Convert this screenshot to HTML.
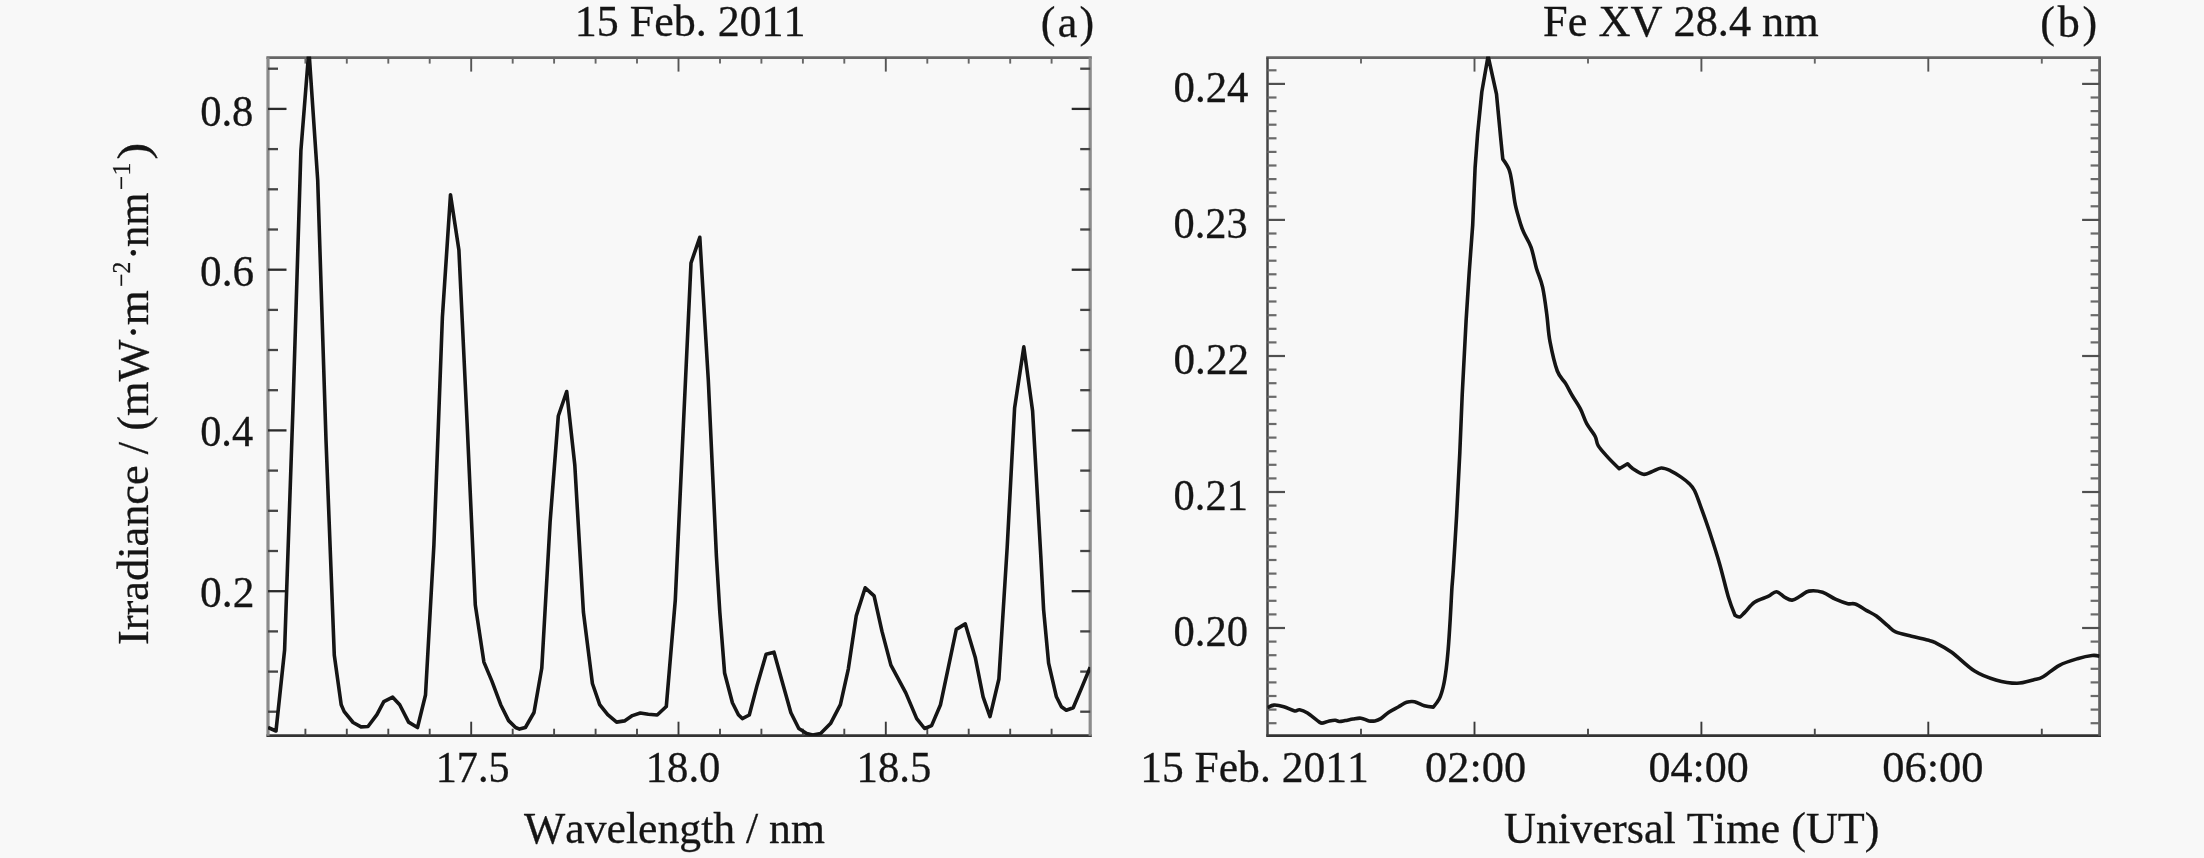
<!DOCTYPE html>
<html lang="en"><head><meta charset="utf-8"><title>EVE spectrum and Fe XV 28.4 nm light curve, 15 Feb. 2011</title>
<style>
html,body{margin:0;padding:0;background:#f8f8f8;}
body{width:2204px;height:858px;overflow:hidden;}
svg{display:block;}
#panel-a,#panel-b,#labels{filter:blur(0.45px);}
text{font-family:"Liberation Serif", "Times New Roman", serif;fill:#151515;stroke:#151515;stroke-width:0.3px;font-kerning:none;}
</style></head><body>
<svg width="2204" height="858" viewBox="0 0 2204 858">
<rect width="2204" height="858" fill="#f8f8f8"/>
<defs>
<clipPath id="ca"><rect x="268.0" y="56.6" width="822.2" height="679.1"/></clipPath>
<clipPath id="cb"><rect x="1267.5" y="56.6" width="832.0999999999999" height="679.1"/></clipPath>
</defs>
<g id="panel-a">
<line x1="266.4" y1="57.6" x2="1091.8" y2="57.6" stroke="#666" stroke-width="2.6"/>
<line x1="266.4" y1="735.7" x2="1091.8" y2="735.7" stroke="#333" stroke-width="2.8"/>
<line x1="268.0" y1="57.6" x2="268.0" y2="735.7" stroke="#8a8a8a" stroke-width="3.2"/>
<line x1="1090.2" y1="57.6" x2="1090.2" y2="735.7" stroke="#8c8c8c" stroke-width="3.2"/>
<line x1="305.4" y1="57.6" x2="305.4" y2="63.6" stroke="#666" stroke-width="1.9"/>
<line x1="305.4" y1="735.7" x2="305.4" y2="728.7" stroke="#4a4a4a" stroke-width="1.9"/>
<line x1="346.8" y1="57.6" x2="346.8" y2="63.6" stroke="#666" stroke-width="1.9"/>
<line x1="346.8" y1="735.7" x2="346.8" y2="728.7" stroke="#4a4a4a" stroke-width="1.9"/>
<line x1="388.3" y1="57.6" x2="388.3" y2="63.6" stroke="#666" stroke-width="1.9"/>
<line x1="388.3" y1="735.7" x2="388.3" y2="728.7" stroke="#4a4a4a" stroke-width="1.9"/>
<line x1="429.7" y1="57.6" x2="429.7" y2="63.6" stroke="#666" stroke-width="1.9"/>
<line x1="429.7" y1="735.7" x2="429.7" y2="728.7" stroke="#4a4a4a" stroke-width="1.9"/>
<line x1="471.2" y1="57.6" x2="471.2" y2="71.6" stroke="#555" stroke-width="1.9"/>
<line x1="471.2" y1="735.7" x2="471.2" y2="721.7" stroke="#3a3a3a" stroke-width="1.9"/>
<line x1="512.7" y1="57.6" x2="512.7" y2="63.6" stroke="#666" stroke-width="1.9"/>
<line x1="512.7" y1="735.7" x2="512.7" y2="728.7" stroke="#4a4a4a" stroke-width="1.9"/>
<line x1="554.1" y1="57.6" x2="554.1" y2="63.6" stroke="#666" stroke-width="1.9"/>
<line x1="554.1" y1="735.7" x2="554.1" y2="728.7" stroke="#4a4a4a" stroke-width="1.9"/>
<line x1="595.6" y1="57.6" x2="595.6" y2="63.6" stroke="#666" stroke-width="1.9"/>
<line x1="595.6" y1="735.7" x2="595.6" y2="728.7" stroke="#4a4a4a" stroke-width="1.9"/>
<line x1="637.0" y1="57.6" x2="637.0" y2="63.6" stroke="#666" stroke-width="1.9"/>
<line x1="637.0" y1="735.7" x2="637.0" y2="728.7" stroke="#4a4a4a" stroke-width="1.9"/>
<line x1="678.5" y1="57.6" x2="678.5" y2="71.6" stroke="#555" stroke-width="1.9"/>
<line x1="678.5" y1="735.7" x2="678.5" y2="721.7" stroke="#3a3a3a" stroke-width="1.9"/>
<line x1="720.0" y1="57.6" x2="720.0" y2="63.6" stroke="#666" stroke-width="1.9"/>
<line x1="720.0" y1="735.7" x2="720.0" y2="728.7" stroke="#4a4a4a" stroke-width="1.9"/>
<line x1="761.4" y1="57.6" x2="761.4" y2="63.6" stroke="#666" stroke-width="1.9"/>
<line x1="761.4" y1="735.7" x2="761.4" y2="728.7" stroke="#4a4a4a" stroke-width="1.9"/>
<line x1="802.9" y1="57.6" x2="802.9" y2="63.6" stroke="#666" stroke-width="1.9"/>
<line x1="802.9" y1="735.7" x2="802.9" y2="728.7" stroke="#4a4a4a" stroke-width="1.9"/>
<line x1="844.3" y1="57.6" x2="844.3" y2="63.6" stroke="#666" stroke-width="1.9"/>
<line x1="844.3" y1="735.7" x2="844.3" y2="728.7" stroke="#4a4a4a" stroke-width="1.9"/>
<line x1="885.8" y1="57.6" x2="885.8" y2="71.6" stroke="#555" stroke-width="1.9"/>
<line x1="885.8" y1="735.7" x2="885.8" y2="721.7" stroke="#3a3a3a" stroke-width="1.9"/>
<line x1="927.3" y1="57.6" x2="927.3" y2="63.6" stroke="#666" stroke-width="1.9"/>
<line x1="927.3" y1="735.7" x2="927.3" y2="728.7" stroke="#4a4a4a" stroke-width="1.9"/>
<line x1="968.7" y1="57.6" x2="968.7" y2="63.6" stroke="#666" stroke-width="1.9"/>
<line x1="968.7" y1="735.7" x2="968.7" y2="728.7" stroke="#4a4a4a" stroke-width="1.9"/>
<line x1="1010.2" y1="57.6" x2="1010.2" y2="63.6" stroke="#666" stroke-width="1.9"/>
<line x1="1010.2" y1="735.7" x2="1010.2" y2="728.7" stroke="#4a4a4a" stroke-width="1.9"/>
<line x1="1051.6" y1="57.6" x2="1051.6" y2="63.6" stroke="#666" stroke-width="1.9"/>
<line x1="1051.6" y1="735.7" x2="1051.6" y2="728.7" stroke="#4a4a4a" stroke-width="1.9"/>
<line x1="268.0" y1="68.7" x2="278.0" y2="68.7" stroke="#444" stroke-width="2.3"/>
<line x1="1090.2" y1="68.7" x2="1080.2" y2="68.7" stroke="#444" stroke-width="2.3"/>
<line x1="268.0" y1="108.9" x2="286.5" y2="108.9" stroke="#2a2a2a" stroke-width="2.3"/>
<line x1="1090.2" y1="108.9" x2="1071.7" y2="108.9" stroke="#2a2a2a" stroke-width="2.3"/>
<line x1="268.0" y1="149.1" x2="278.0" y2="149.1" stroke="#444" stroke-width="2.3"/>
<line x1="1090.2" y1="149.1" x2="1080.2" y2="149.1" stroke="#444" stroke-width="2.3"/>
<line x1="268.0" y1="189.3" x2="278.0" y2="189.3" stroke="#444" stroke-width="2.3"/>
<line x1="1090.2" y1="189.3" x2="1080.2" y2="189.3" stroke="#444" stroke-width="2.3"/>
<line x1="268.0" y1="229.5" x2="278.0" y2="229.5" stroke="#444" stroke-width="2.3"/>
<line x1="1090.2" y1="229.5" x2="1080.2" y2="229.5" stroke="#444" stroke-width="2.3"/>
<line x1="268.0" y1="269.7" x2="286.5" y2="269.7" stroke="#2a2a2a" stroke-width="2.3"/>
<line x1="1090.2" y1="269.7" x2="1071.7" y2="269.7" stroke="#2a2a2a" stroke-width="2.3"/>
<line x1="268.0" y1="309.9" x2="278.0" y2="309.9" stroke="#444" stroke-width="2.3"/>
<line x1="1090.2" y1="309.9" x2="1080.2" y2="309.9" stroke="#444" stroke-width="2.3"/>
<line x1="268.0" y1="350.0" x2="278.0" y2="350.0" stroke="#444" stroke-width="2.3"/>
<line x1="1090.2" y1="350.0" x2="1080.2" y2="350.0" stroke="#444" stroke-width="2.3"/>
<line x1="268.0" y1="390.2" x2="278.0" y2="390.2" stroke="#444" stroke-width="2.3"/>
<line x1="1090.2" y1="390.2" x2="1080.2" y2="390.2" stroke="#444" stroke-width="2.3"/>
<line x1="268.0" y1="430.4" x2="286.5" y2="430.4" stroke="#2a2a2a" stroke-width="2.3"/>
<line x1="1090.2" y1="430.4" x2="1071.7" y2="430.4" stroke="#2a2a2a" stroke-width="2.3"/>
<line x1="268.0" y1="470.6" x2="278.0" y2="470.6" stroke="#444" stroke-width="2.3"/>
<line x1="1090.2" y1="470.6" x2="1080.2" y2="470.6" stroke="#444" stroke-width="2.3"/>
<line x1="268.0" y1="510.8" x2="278.0" y2="510.8" stroke="#444" stroke-width="2.3"/>
<line x1="1090.2" y1="510.8" x2="1080.2" y2="510.8" stroke="#444" stroke-width="2.3"/>
<line x1="268.0" y1="551.0" x2="278.0" y2="551.0" stroke="#444" stroke-width="2.3"/>
<line x1="1090.2" y1="551.0" x2="1080.2" y2="551.0" stroke="#444" stroke-width="2.3"/>
<line x1="268.0" y1="591.2" x2="286.5" y2="591.2" stroke="#2a2a2a" stroke-width="2.3"/>
<line x1="1090.2" y1="591.2" x2="1071.7" y2="591.2" stroke="#2a2a2a" stroke-width="2.3"/>
<line x1="268.0" y1="631.4" x2="278.0" y2="631.4" stroke="#444" stroke-width="2.3"/>
<line x1="1090.2" y1="631.4" x2="1080.2" y2="631.4" stroke="#444" stroke-width="2.3"/>
<line x1="268.0" y1="671.6" x2="278.0" y2="671.6" stroke="#444" stroke-width="2.3"/>
<line x1="1090.2" y1="671.6" x2="1080.2" y2="671.6" stroke="#444" stroke-width="2.3"/>
<line x1="268.0" y1="711.7" x2="278.0" y2="711.7" stroke="#444" stroke-width="2.3"/>
<line x1="1090.2" y1="711.7" x2="1080.2" y2="711.7" stroke="#444" stroke-width="2.3"/>
<polyline clip-path="url(#ca)" points="268.0,727.5 276.0,731.0 284.6,650.0 292.9,410.0 300.9,150.7 308.9,50.0 317.7,180.0 326.0,440.0 334.3,655.2 341.2,704.7 344.2,711.6 353.1,722.5 361.0,726.9 368.0,726.5 376.9,714.6 383.8,701.7 392.7,697.2 399.7,704.7 408.6,722.1 417.5,727.5 425.5,695.0 433.9,545.0 442.4,317.0 450.5,194.7 458.9,250.0 467.1,423.0 475.3,605.0 483.9,662.1 491.8,680.9 500.7,704.7 508.6,720.6 515.6,727.5 519.5,729.1 525.4,727.5 534.0,712.5 541.8,668.0 550.1,522.0 558.3,416.0 566.7,391.5 574.8,465.0 583.4,612.0 592.4,683.5 599.7,704.7 607.7,714.6 616.6,722.1 624.5,720.9 632.4,715.6 640.3,713.0 648.3,714.2 657.2,715.0 666.3,706.5 675.3,600.0 683.4,425.0 691.0,263.0 699.8,237.3 708.3,380.0 716.4,556.0 719.8,612.0 724.6,673.0 732.4,702.8 738.4,714.7 742.3,718.6 749.3,715.0 757.2,684.9 766.1,654.2 774.0,652.2 782.0,681.0 790.9,712.7 798.8,728.5 806.7,733.5 812.7,734.9 820.6,733.5 830.5,723.6 840.4,704.7 848.3,669.1 856.3,615.6 865.2,587.8 874.1,595.8 882.0,631.4 890.9,665.1 905.8,692.9 916.7,718.6 924.6,728.5 931.6,725.6 940.5,704.7 948.4,667.1 956.3,629.4 965.3,623.9 975.2,657.2 983.1,696.8 990.0,716.6 998.9,679.0 1007.2,547.0 1014.6,408.0 1023.8,346.9 1032.6,411.0 1040.8,556.0 1043.6,609.6 1048.6,663.1 1056.4,696.8 1061.4,706.7 1066.3,710.3 1073.2,707.7 1081.2,688.9 1090.2,667.1" fill="none" stroke="#151515" stroke-width="3.6" stroke-linejoin="round" stroke-linecap="butt"/>
</g>
<g id="panel-b">
<line x1="1266.2" y1="57.6" x2="2101.0" y2="57.6" stroke="#666" stroke-width="2.6"/>
<line x1="1266.2" y1="735.7" x2="2101.0" y2="735.7" stroke="#333" stroke-width="2.8"/>
<line x1="1267.5" y1="57.6" x2="1267.5" y2="735.7" stroke="#444" stroke-width="2.5"/>
<line x1="2099.6" y1="57.6" x2="2099.6" y2="735.7" stroke="#606060" stroke-width="2.8"/>
<line x1="1361.0" y1="57.6" x2="1361.0" y2="63.6" stroke="#666" stroke-width="1.9"/>
<line x1="1361.0" y1="735.7" x2="1361.0" y2="728.7" stroke="#4a4a4a" stroke-width="1.9"/>
<line x1="1474.5" y1="57.6" x2="1474.5" y2="71.6" stroke="#555" stroke-width="1.9"/>
<line x1="1474.5" y1="735.7" x2="1474.5" y2="721.7" stroke="#3a3a3a" stroke-width="1.9"/>
<line x1="1588.0" y1="57.6" x2="1588.0" y2="63.6" stroke="#666" stroke-width="1.9"/>
<line x1="1588.0" y1="735.7" x2="1588.0" y2="728.7" stroke="#4a4a4a" stroke-width="1.9"/>
<line x1="1701.4" y1="57.6" x2="1701.4" y2="71.6" stroke="#555" stroke-width="1.9"/>
<line x1="1701.4" y1="735.7" x2="1701.4" y2="721.7" stroke="#3a3a3a" stroke-width="1.9"/>
<line x1="1814.8" y1="57.6" x2="1814.8" y2="63.6" stroke="#666" stroke-width="1.9"/>
<line x1="1814.8" y1="735.7" x2="1814.8" y2="728.7" stroke="#4a4a4a" stroke-width="1.9"/>
<line x1="1928.3" y1="57.6" x2="1928.3" y2="71.6" stroke="#555" stroke-width="1.9"/>
<line x1="1928.3" y1="735.7" x2="1928.3" y2="721.7" stroke="#3a3a3a" stroke-width="1.9"/>
<line x1="2041.8" y1="57.6" x2="2041.8" y2="63.6" stroke="#666" stroke-width="1.9"/>
<line x1="2041.8" y1="735.7" x2="2041.8" y2="728.7" stroke="#4a4a4a" stroke-width="1.9"/>
<line x1="1267.5" y1="70.3" x2="1276.5" y2="70.3" stroke="#6a6a6a" stroke-width="2.2"/>
<line x1="2099.6" y1="70.3" x2="2090.6" y2="70.3" stroke="#6a6a6a" stroke-width="2.2"/>
<line x1="1267.5" y1="83.9" x2="1285.0" y2="83.9" stroke="#505050" stroke-width="2.2"/>
<line x1="2099.6" y1="83.9" x2="2082.1" y2="83.9" stroke="#505050" stroke-width="2.2"/>
<line x1="1267.5" y1="97.5" x2="1276.5" y2="97.5" stroke="#6a6a6a" stroke-width="2.2"/>
<line x1="2099.6" y1="97.5" x2="2090.6" y2="97.5" stroke="#6a6a6a" stroke-width="2.2"/>
<line x1="1267.5" y1="111.1" x2="1276.5" y2="111.1" stroke="#6a6a6a" stroke-width="2.2"/>
<line x1="2099.6" y1="111.1" x2="2090.6" y2="111.1" stroke="#6a6a6a" stroke-width="2.2"/>
<line x1="1267.5" y1="124.7" x2="1276.5" y2="124.7" stroke="#6a6a6a" stroke-width="2.2"/>
<line x1="2099.6" y1="124.7" x2="2090.6" y2="124.7" stroke="#6a6a6a" stroke-width="2.2"/>
<line x1="1267.5" y1="138.3" x2="1276.5" y2="138.3" stroke="#6a6a6a" stroke-width="2.2"/>
<line x1="2099.6" y1="138.3" x2="2090.6" y2="138.3" stroke="#6a6a6a" stroke-width="2.2"/>
<line x1="1267.5" y1="151.9" x2="1276.5" y2="151.9" stroke="#6a6a6a" stroke-width="2.2"/>
<line x1="2099.6" y1="151.9" x2="2090.6" y2="151.9" stroke="#6a6a6a" stroke-width="2.2"/>
<line x1="1267.5" y1="165.5" x2="1276.5" y2="165.5" stroke="#6a6a6a" stroke-width="2.2"/>
<line x1="2099.6" y1="165.5" x2="2090.6" y2="165.5" stroke="#6a6a6a" stroke-width="2.2"/>
<line x1="1267.5" y1="179.1" x2="1276.5" y2="179.1" stroke="#6a6a6a" stroke-width="2.2"/>
<line x1="2099.6" y1="179.1" x2="2090.6" y2="179.1" stroke="#6a6a6a" stroke-width="2.2"/>
<line x1="1267.5" y1="192.7" x2="1276.5" y2="192.7" stroke="#6a6a6a" stroke-width="2.2"/>
<line x1="2099.6" y1="192.7" x2="2090.6" y2="192.7" stroke="#6a6a6a" stroke-width="2.2"/>
<line x1="1267.5" y1="206.3" x2="1276.5" y2="206.3" stroke="#6a6a6a" stroke-width="2.2"/>
<line x1="2099.6" y1="206.3" x2="2090.6" y2="206.3" stroke="#6a6a6a" stroke-width="2.2"/>
<line x1="1267.5" y1="219.9" x2="1285.0" y2="219.9" stroke="#505050" stroke-width="2.2"/>
<line x1="2099.6" y1="219.9" x2="2082.1" y2="219.9" stroke="#505050" stroke-width="2.2"/>
<line x1="1267.5" y1="233.5" x2="1276.5" y2="233.5" stroke="#6a6a6a" stroke-width="2.2"/>
<line x1="2099.6" y1="233.5" x2="2090.6" y2="233.5" stroke="#6a6a6a" stroke-width="2.2"/>
<line x1="1267.5" y1="247.1" x2="1276.5" y2="247.1" stroke="#6a6a6a" stroke-width="2.2"/>
<line x1="2099.6" y1="247.1" x2="2090.6" y2="247.1" stroke="#6a6a6a" stroke-width="2.2"/>
<line x1="1267.5" y1="260.7" x2="1276.5" y2="260.7" stroke="#6a6a6a" stroke-width="2.2"/>
<line x1="2099.6" y1="260.7" x2="2090.6" y2="260.7" stroke="#6a6a6a" stroke-width="2.2"/>
<line x1="1267.5" y1="274.3" x2="1276.5" y2="274.3" stroke="#6a6a6a" stroke-width="2.2"/>
<line x1="2099.6" y1="274.3" x2="2090.6" y2="274.3" stroke="#6a6a6a" stroke-width="2.2"/>
<line x1="1267.5" y1="287.9" x2="1276.5" y2="287.9" stroke="#6a6a6a" stroke-width="2.2"/>
<line x1="2099.6" y1="287.9" x2="2090.6" y2="287.9" stroke="#6a6a6a" stroke-width="2.2"/>
<line x1="1267.5" y1="301.5" x2="1276.5" y2="301.5" stroke="#6a6a6a" stroke-width="2.2"/>
<line x1="2099.6" y1="301.5" x2="2090.6" y2="301.5" stroke="#6a6a6a" stroke-width="2.2"/>
<line x1="1267.5" y1="315.2" x2="1276.5" y2="315.2" stroke="#6a6a6a" stroke-width="2.2"/>
<line x1="2099.6" y1="315.2" x2="2090.6" y2="315.2" stroke="#6a6a6a" stroke-width="2.2"/>
<line x1="1267.5" y1="328.8" x2="1276.5" y2="328.8" stroke="#6a6a6a" stroke-width="2.2"/>
<line x1="2099.6" y1="328.8" x2="2090.6" y2="328.8" stroke="#6a6a6a" stroke-width="2.2"/>
<line x1="1267.5" y1="342.4" x2="1276.5" y2="342.4" stroke="#6a6a6a" stroke-width="2.2"/>
<line x1="2099.6" y1="342.4" x2="2090.6" y2="342.4" stroke="#6a6a6a" stroke-width="2.2"/>
<line x1="1267.5" y1="356.0" x2="1285.0" y2="356.0" stroke="#505050" stroke-width="2.2"/>
<line x1="2099.6" y1="356.0" x2="2082.1" y2="356.0" stroke="#505050" stroke-width="2.2"/>
<line x1="1267.5" y1="369.6" x2="1276.5" y2="369.6" stroke="#6a6a6a" stroke-width="2.2"/>
<line x1="2099.6" y1="369.6" x2="2090.6" y2="369.6" stroke="#6a6a6a" stroke-width="2.2"/>
<line x1="1267.5" y1="383.2" x2="1276.5" y2="383.2" stroke="#6a6a6a" stroke-width="2.2"/>
<line x1="2099.6" y1="383.2" x2="2090.6" y2="383.2" stroke="#6a6a6a" stroke-width="2.2"/>
<line x1="1267.5" y1="396.8" x2="1276.5" y2="396.8" stroke="#6a6a6a" stroke-width="2.2"/>
<line x1="2099.6" y1="396.8" x2="2090.6" y2="396.8" stroke="#6a6a6a" stroke-width="2.2"/>
<line x1="1267.5" y1="410.4" x2="1276.5" y2="410.4" stroke="#6a6a6a" stroke-width="2.2"/>
<line x1="2099.6" y1="410.4" x2="2090.6" y2="410.4" stroke="#6a6a6a" stroke-width="2.2"/>
<line x1="1267.5" y1="424.0" x2="1276.5" y2="424.0" stroke="#6a6a6a" stroke-width="2.2"/>
<line x1="2099.6" y1="424.0" x2="2090.6" y2="424.0" stroke="#6a6a6a" stroke-width="2.2"/>
<line x1="1267.5" y1="437.6" x2="1276.5" y2="437.6" stroke="#6a6a6a" stroke-width="2.2"/>
<line x1="2099.6" y1="437.6" x2="2090.6" y2="437.6" stroke="#6a6a6a" stroke-width="2.2"/>
<line x1="1267.5" y1="451.2" x2="1276.5" y2="451.2" stroke="#6a6a6a" stroke-width="2.2"/>
<line x1="2099.6" y1="451.2" x2="2090.6" y2="451.2" stroke="#6a6a6a" stroke-width="2.2"/>
<line x1="1267.5" y1="464.8" x2="1276.5" y2="464.8" stroke="#6a6a6a" stroke-width="2.2"/>
<line x1="2099.6" y1="464.8" x2="2090.6" y2="464.8" stroke="#6a6a6a" stroke-width="2.2"/>
<line x1="1267.5" y1="478.4" x2="1276.5" y2="478.4" stroke="#6a6a6a" stroke-width="2.2"/>
<line x1="2099.6" y1="478.4" x2="2090.6" y2="478.4" stroke="#6a6a6a" stroke-width="2.2"/>
<line x1="1267.5" y1="492.0" x2="1285.0" y2="492.0" stroke="#505050" stroke-width="2.2"/>
<line x1="2099.6" y1="492.0" x2="2082.1" y2="492.0" stroke="#505050" stroke-width="2.2"/>
<line x1="1267.5" y1="505.6" x2="1276.5" y2="505.6" stroke="#6a6a6a" stroke-width="2.2"/>
<line x1="2099.6" y1="505.6" x2="2090.6" y2="505.6" stroke="#6a6a6a" stroke-width="2.2"/>
<line x1="1267.5" y1="519.2" x2="1276.5" y2="519.2" stroke="#6a6a6a" stroke-width="2.2"/>
<line x1="2099.6" y1="519.2" x2="2090.6" y2="519.2" stroke="#6a6a6a" stroke-width="2.2"/>
<line x1="1267.5" y1="532.8" x2="1276.5" y2="532.8" stroke="#6a6a6a" stroke-width="2.2"/>
<line x1="2099.6" y1="532.8" x2="2090.6" y2="532.8" stroke="#6a6a6a" stroke-width="2.2"/>
<line x1="1267.5" y1="546.4" x2="1276.5" y2="546.4" stroke="#6a6a6a" stroke-width="2.2"/>
<line x1="2099.6" y1="546.4" x2="2090.6" y2="546.4" stroke="#6a6a6a" stroke-width="2.2"/>
<line x1="1267.5" y1="560.0" x2="1276.5" y2="560.0" stroke="#6a6a6a" stroke-width="2.2"/>
<line x1="2099.6" y1="560.0" x2="2090.6" y2="560.0" stroke="#6a6a6a" stroke-width="2.2"/>
<line x1="1267.5" y1="573.6" x2="1276.5" y2="573.6" stroke="#6a6a6a" stroke-width="2.2"/>
<line x1="2099.6" y1="573.6" x2="2090.6" y2="573.6" stroke="#6a6a6a" stroke-width="2.2"/>
<line x1="1267.5" y1="587.2" x2="1276.5" y2="587.2" stroke="#6a6a6a" stroke-width="2.2"/>
<line x1="2099.6" y1="587.2" x2="2090.6" y2="587.2" stroke="#6a6a6a" stroke-width="2.2"/>
<line x1="1267.5" y1="600.8" x2="1276.5" y2="600.8" stroke="#6a6a6a" stroke-width="2.2"/>
<line x1="2099.6" y1="600.8" x2="2090.6" y2="600.8" stroke="#6a6a6a" stroke-width="2.2"/>
<line x1="1267.5" y1="614.4" x2="1276.5" y2="614.4" stroke="#6a6a6a" stroke-width="2.2"/>
<line x1="2099.6" y1="614.4" x2="2090.6" y2="614.4" stroke="#6a6a6a" stroke-width="2.2"/>
<line x1="1267.5" y1="628.0" x2="1285.0" y2="628.0" stroke="#505050" stroke-width="2.2"/>
<line x1="2099.6" y1="628.0" x2="2082.1" y2="628.0" stroke="#505050" stroke-width="2.2"/>
<line x1="1267.5" y1="641.6" x2="1276.5" y2="641.6" stroke="#6a6a6a" stroke-width="2.2"/>
<line x1="2099.6" y1="641.6" x2="2090.6" y2="641.6" stroke="#6a6a6a" stroke-width="2.2"/>
<line x1="1267.5" y1="655.2" x2="1276.5" y2="655.2" stroke="#6a6a6a" stroke-width="2.2"/>
<line x1="2099.6" y1="655.2" x2="2090.6" y2="655.2" stroke="#6a6a6a" stroke-width="2.2"/>
<line x1="1267.5" y1="668.8" x2="1276.5" y2="668.8" stroke="#6a6a6a" stroke-width="2.2"/>
<line x1="2099.6" y1="668.8" x2="2090.6" y2="668.8" stroke="#6a6a6a" stroke-width="2.2"/>
<line x1="1267.5" y1="682.4" x2="1276.5" y2="682.4" stroke="#6a6a6a" stroke-width="2.2"/>
<line x1="2099.6" y1="682.4" x2="2090.6" y2="682.4" stroke="#6a6a6a" stroke-width="2.2"/>
<line x1="1267.5" y1="696.0" x2="1276.5" y2="696.0" stroke="#6a6a6a" stroke-width="2.2"/>
<line x1="2099.6" y1="696.0" x2="2090.6" y2="696.0" stroke="#6a6a6a" stroke-width="2.2"/>
<line x1="1267.5" y1="709.6" x2="1276.5" y2="709.6" stroke="#6a6a6a" stroke-width="2.2"/>
<line x1="2099.6" y1="709.6" x2="2090.6" y2="709.6" stroke="#6a6a6a" stroke-width="2.2"/>
<line x1="1267.5" y1="723.2" x2="1276.5" y2="723.2" stroke="#6a6a6a" stroke-width="2.2"/>
<line x1="2099.6" y1="723.2" x2="2090.6" y2="723.2" stroke="#6a6a6a" stroke-width="2.2"/>
<path clip-path="url(#cb)" d="M1267.5,707.7 C1267.5,707.7 1271.2,705.3 1273.9,705.1 C1276.6,704.9 1280.3,705.7 1283.8,706.7 C1287.3,707.7 1292.1,710.5 1294.7,711.0 C1297.3,711.5 1297.5,709.4 1299.6,709.7 C1301.7,710.0 1304.2,710.9 1307.5,713.0 C1310.8,715.1 1316.8,720.5 1319.4,722.1 C1322.1,723.8 1321.8,723.1 1323.4,722.9 C1325.1,722.7 1327.3,721.3 1329.3,720.9 C1331.3,720.5 1333.6,720.1 1335.3,720.2 C1337.0,720.3 1337.5,721.4 1339.2,721.5 C1340.9,721.6 1342.9,721.0 1345.2,720.6 C1347.5,720.2 1350.5,719.4 1353.1,719.0 C1355.7,718.6 1358.3,717.9 1361.0,718.2 C1363.7,718.5 1366.7,720.5 1369.0,720.9 C1371.3,721.3 1372.9,721.3 1374.9,720.9 C1376.9,720.5 1378.5,720.0 1380.8,718.6 C1383.1,717.2 1385.8,714.2 1388.8,712.2 C1391.8,710.2 1395.7,708.4 1398.7,706.7 C1401.7,705.1 1404.0,703.1 1406.6,702.3 C1409.2,701.5 1411.5,701.1 1414.5,701.7 C1417.5,702.3 1421.3,704.8 1424.4,705.7 C1427.5,706.6 1433.3,707.1 1433.3,707.1 C1433.3,707.1 1437.6,702.2 1439.3,698.8 C1441.0,695.4 1442.0,691.9 1443.2,686.9 C1444.4,681.9 1445.4,675.3 1446.2,669.0 C1447.0,662.7 1447.5,657.5 1448.2,649.2 C1448.9,641.0 1449.6,629.4 1450.2,619.5 C1450.8,609.6 1451.3,598.0 1451.8,589.8 C1452.3,581.5 1452.5,582.3 1453.3,570.0 C1454.1,557.7 1456.6,515.9 1456.6,515.9 C1456.6,515.9 1459.8,452.9 1459.8,452.9 C1459.8,452.9 1462.2,395.0 1462.2,395.0 C1462.2,395.0 1466.1,320.7 1466.1,320.7 C1466.1,320.7 1469.2,272.4 1469.2,272.4 C1469.2,272.4 1472.7,225.0 1472.7,225.0 C1472.7,225.0 1475.1,167.5 1475.1,167.5 C1475.1,167.5 1477.6,133.9 1477.6,133.9 C1477.6,133.9 1481.8,92.0 1481.8,92.0 C1481.8,92.0 1488.1,56.0 1488.1,56.0 C1488.1,56.0 1496.5,94.1 1496.5,94.1 C1496.5,94.1 1500.7,138.1 1500.7,138.1 C1500.7,138.1 1502.8,159.1 1502.8,159.1 C1502.8,159.1 1507.5,165.4 1509.1,169.6 C1510.7,173.8 1511.2,178.4 1512.2,184.3 C1513.2,190.2 1514.0,198.6 1515.4,205.2 C1516.8,211.8 1519.2,219.4 1520.6,224.0 C1522.0,228.6 1522.0,228.7 1523.8,232.6 C1525.5,236.5 1529.0,241.4 1531.1,247.3 C1533.2,253.2 1534.5,261.6 1536.4,268.2 C1538.3,274.8 1540.9,279.4 1542.6,287.1 C1544.3,294.8 1545.6,305.3 1546.8,314.4 C1548.0,323.5 1548.2,332.3 1550.0,341.7 C1551.8,351.1 1554.7,364.0 1557.3,371.0 C1559.9,378.0 1563.2,379.4 1565.7,383.6 C1568.2,387.8 1570.0,391.8 1572.5,396.0 C1575.0,400.2 1578.0,404.3 1580.4,408.9 C1582.8,413.5 1584.2,419.1 1586.7,423.6 C1589.2,428.2 1593.2,432.5 1595.1,436.2 C1597.0,439.9 1596.1,442.1 1598.2,445.6 C1600.3,449.1 1604.2,453.2 1607.7,457.1 C1611.2,461.0 1619.2,468.7 1619.2,468.7 C1619.2,468.7 1627.6,463.8 1627.6,463.8 C1627.6,463.8 1630.3,466.9 1632.9,468.7 C1635.5,470.4 1640.2,473.8 1643.3,474.3 C1646.4,474.8 1648.7,472.9 1651.7,471.8 C1654.7,470.8 1658.1,468.2 1661.2,468.0 C1664.3,467.8 1667.3,469.3 1670.6,470.8 C1673.9,472.3 1678.1,475.0 1681.1,477.1 C1684.1,479.2 1686.6,481.0 1688.8,483.2 C1691.0,485.4 1692.5,486.7 1694.5,490.5 C1696.5,494.3 1698.0,499.2 1700.5,506.0 C1703.0,512.8 1706.2,521.5 1709.4,531.3 C1712.6,541.1 1716.8,554.0 1719.9,564.9 C1723.0,575.8 1725.7,588.0 1728.2,596.4 C1730.7,604.8 1735.0,615.2 1735.0,615.2 C1735.0,615.2 1738.1,617.4 1739.8,616.9 C1741.5,616.4 1742.5,614.5 1745.0,612.1 C1747.5,609.7 1750.7,604.8 1754.5,602.2 C1758.3,599.6 1764.4,598.1 1768.1,596.4 C1771.8,594.6 1773.7,591.5 1776.5,591.7 C1779.3,591.9 1782.3,596.0 1784.9,597.4 C1787.5,598.8 1789.6,600.4 1792.2,600.1 C1794.8,599.9 1797.8,597.4 1800.6,595.9 C1803.4,594.4 1805.3,591.7 1809.0,591.1 C1812.7,590.5 1818.2,590.9 1822.6,592.2 C1827.0,593.6 1831.2,597.3 1835.4,599.2 C1839.6,601.1 1844.5,602.9 1847.8,603.7 C1851.1,604.5 1852.0,602.9 1855.2,604.0 C1858.4,605.1 1863.2,608.6 1866.7,610.6 C1870.2,612.6 1872.9,613.5 1876.4,616.0 C1879.9,618.5 1884.5,623.1 1887.7,625.7 C1890.9,628.4 1891.6,630.1 1895.6,631.9 C1899.6,633.6 1906.2,634.9 1911.5,636.2 C1916.8,637.6 1923.5,638.9 1927.5,640.0 C1931.5,641.1 1931.4,640.7 1935.4,642.7 C1939.4,644.7 1945.2,647.5 1951.7,652.2 C1958.2,656.9 1967.2,666.4 1974.6,671.0 C1981.9,675.6 1988.7,677.9 1995.8,679.9 C2002.9,681.9 2010.8,683.2 2017.0,683.2 C2023.2,683.2 2029.0,681.0 2033.3,679.9 C2037.6,678.8 2038.8,679.1 2043.1,676.7 C2047.4,674.3 2053.7,668.3 2059.4,665.3 C2065.1,662.3 2072.0,660.3 2077.4,658.7 C2082.8,657.1 2088.4,655.9 2092.1,655.5 C2095.8,655.1 2099.6,656.3 2099.6,656.3" fill="none" stroke="#151515" stroke-width="3.6" stroke-linejoin="round"/>
</g>
<g id="labels">
<text id="t_title_a" transform="translate(574.80,36.20) scale(0.9991,1)" font-size="44">15 Feb. 2011</text>
<text id="t_a" x="1040.80" y="36.60" letter-spacing="2.20" font-size="44">(a)</text>
<text id="t_title_b" transform="translate(1543.09,36.30) scale(1.0070,1)" font-size="44">Fe XV 28.4 nm</text>
<text id="t_b" x="2040.20" y="36.60" letter-spacing="2.80" font-size="44">(b)</text>
<text id="t_ya0" transform="translate(200.13,125.60) scale(0.9698,1)" font-size="44">0.8</text>
<text id="t_ya1" transform="translate(200.12,285.90) scale(0.9811,1)" font-size="44">0.6</text>
<text id="t_ya2" transform="translate(200.14,446.20) scale(0.9630,1)" font-size="44">0.4</text>
<text id="t_ya3" transform="translate(200.11,606.50) scale(0.9885,1)" font-size="44">0.2</text>
<text id="t_yb0" transform="translate(1173.53,101.90) scale(0.9737,1)" font-size="44">0.24</text>
<text id="t_yb1" transform="translate(1173.54,237.90) scale(0.9640,1)" font-size="44">0.23</text>
<text id="t_yb2" transform="translate(1173.52,373.90) scale(0.9811,1)" font-size="44">0.22</text>
<text id="t_yb3" transform="translate(1173.53,509.90) scale(0.9662,1)" font-size="44">0.21</text>
<text id="t_yb4" transform="translate(1173.53,645.90) scale(0.9680,1)" font-size="44">0.20</text>
<text id="t_xa0" transform="translate(435.77,782.30) scale(0.9583,1)" font-size="44">17.5</text>
<text id="t_xa1" transform="translate(645.72,782.30) scale(0.9708,1)" font-size="44">18.0</text>
<text id="t_xa2" transform="translate(856.62,782.30) scale(0.9708,1)" font-size="44">18.5</text>
<text id="t_xb_date" transform="translate(1140.14,781.50) scale(0.9898,1)" font-size="44">15 Feb. 2011</text>
<text id="t_xb0" transform="translate(1424.99,782.30) scale(1.0102,1)" font-size="44">02:00</text>
<text id="t_xb1" transform="translate(1648.50,782.30) scale(1.0020,1)" font-size="44">04:00</text>
<text id="t_xb2" transform="translate(1882.19,782.30) scale(1.0102,1)" font-size="44">06:00</text>
<text id="t_xlab_a" transform="translate(524.10,843.20) scale(0.9931,1)" font-size="44">Wavelength / nm</text>
<text id="t_xlab_b" transform="translate(1504.00,843.20) scale(1.0046,1)" font-size="44">Universal Time (UT)</text>
<g id="t_ylab_a">
<text transform="translate(148.30,645.09) rotate(-90) scale(0.9864,1)" font-size="45">Irradiance / (mW</text>
<text transform="translate(148.30,339.60) rotate(-90) scale(1.0000,1)" font-size="45">·</text>
<text transform="translate(148.30,325.30) rotate(-90) scale(1.0000,1)" font-size="45">m</text>
<text transform="translate(129.50,286.71) rotate(-90) scale(0.9077,1)" font-size="26">−2</text>
<text transform="translate(148.30,260.20) rotate(-90) scale(1.0000,1)" font-size="45">·</text>
<text transform="translate(148.30,247.05) rotate(-90) scale(0.9482,1)" font-size="45">nm</text>
<text transform="translate(129.50,189.88) rotate(-90) scale(0.9840,1)" font-size="26">−1</text>
<text transform="translate(148.30,159.73) rotate(-90) scale(1.1333,1)" font-size="45">)</text>
</g>
</g>
</svg></body></html>
